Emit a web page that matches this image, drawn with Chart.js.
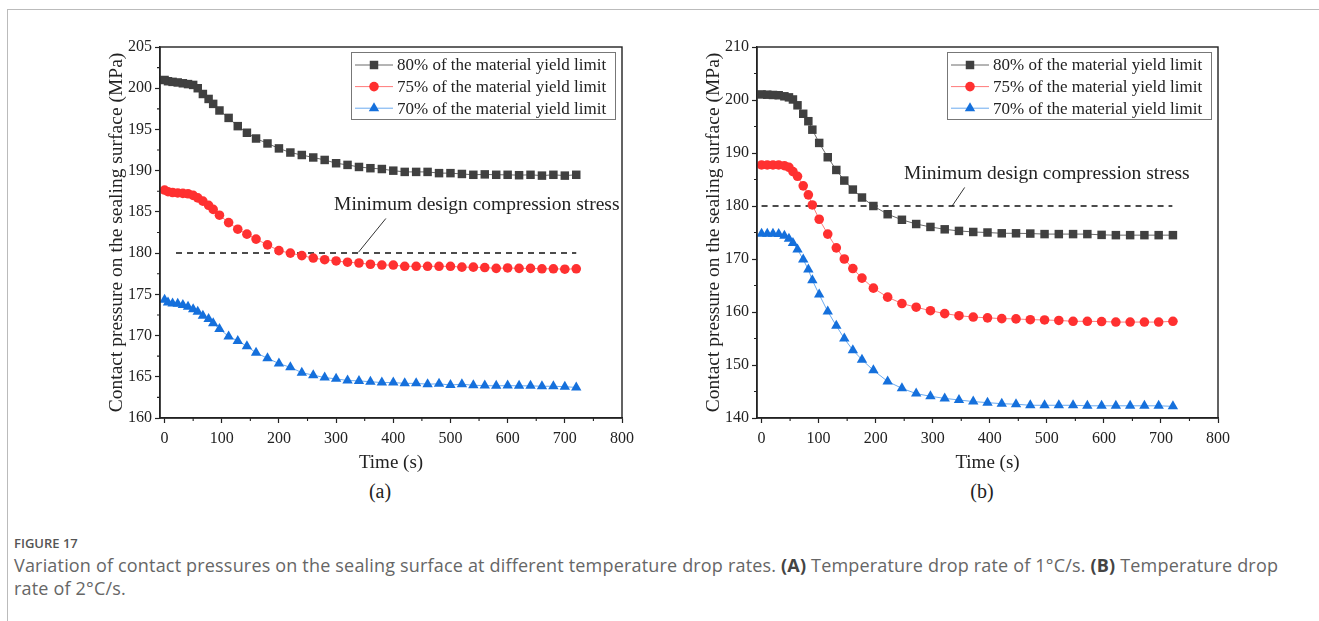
<!DOCTYPE html>
<html>
<head>
<meta charset="utf-8">
<script src="https://cdn.jsdelivr.net/npm/chart.js@4.4.1/dist/chart.umd.min.js"></script>
<style>
  body { margin: 0; background: #fff; width: 1319px; height: 621px; overflow: hidden; position: relative; }
  .frame { position: absolute; left: 7px; top: 9px; right: 0; bottom: 0; border-top: 1px solid #bbb; border-left: 1px solid #bbb; }
  canvas { position: absolute; top: 30px; }
  .sub { position: absolute; top: 480px; font: 20px "Liberation Serif", serif; color: #222; transform: translateX(-50%); }
  .figno { position: absolute; left: 14px; top: 534px; font: 600 13px "Open Sans", sans-serif; color: #555; }
  .caption { position: absolute; left: 14px; top: 554px; font: 18px "Open Sans", sans-serif; letter-spacing: 0.18px; color: #666; line-height: 23px; white-space: nowrap; }
  .caption b { color: #444; }
</style>
</head>
<body>
<div class="frame"></div>
<canvas id="chartA" width="550" height="450" style="left:90px"></canvas>
<canvas id="chartB" width="550" height="450" style="left:687px"></canvas>
<div class="sub" style="left:380px">(a)</div>
<div class="sub" style="left:982px">(b)</div>
<div class="figno">FIGURE 17</div>
<div class="caption">Variation of contact pressures on the sealing surface at different temperature drop rates. <b>(A)</b> Temperature drop rate of 1°C/s. <b>(B)</b> Temperature drop<br>rate of 2°C/s.</div>
<script>
// series labels
const seriesLabels = ['80% of the material yield limit', '75% of the material yield limit', '70% of the material yield limit'];
const noteText = 'Minimum design compression stress';
const designStress = 180;

// (a) 1 °C/s
const timeA = [0, 6, 14, 23, 32, 41, 50, 58, 67, 77, 85, 96, 112, 128, 144, 160,
  180, 200, 220, 240, 260, 280, 300, 320, 340, 360, 380, 400, 420, 440, 460, 480, 500, 520, 540, 560, 580, 600, 620, 640, 660, 680, 700, 720];
const p80A = [201.0, 200.85, 200.77, 200.7, 200.6, 200.5, 200.4, 200.0, 199.3, 198.7, 198.1, 197.3, 196.4, 195.4, 194.6, 193.9,
  193.3, 192.7, 192.2, 191.9, 191.6, 191.3, 190.9, 190.7, 190.45, 190.3, 190.2, 190.0, 189.85, 189.85, 189.85, 189.7, 189.7, 189.6, 189.5, 189.55, 189.5, 189.5, 189.45, 189.5, 189.4, 189.5, 189.4, 189.5];
const p75A = [187.65, 187.45, 187.35, 187.3, 187.25, 187.2, 187.0, 186.7, 186.3, 185.8, 185.3, 184.6, 183.7, 182.9, 182.3, 181.7,
  181.0, 180.3, 180.0, 179.7, 179.4, 179.2, 179.05, 178.9, 178.8, 178.65, 178.55, 178.55, 178.4, 178.4, 178.4, 178.4, 178.4, 178.3, 178.3, 178.25, 178.15, 178.2, 178.15, 178.15, 178.1, 178.1, 178.05, 178.1];
const p70A = [174.33, 174.0, 173.9, 173.85, 173.7, 173.5, 173.2, 172.9, 172.4, 172.0, 171.5, 170.8, 169.9, 169.35, 168.7, 167.9,
  167.25, 166.6, 166.15, 165.5, 165.2, 164.9, 164.75, 164.55, 164.5, 164.4, 164.3, 164.3, 164.2, 164.2, 164.1, 164.15, 164.0, 164.1, 163.97, 163.93, 163.9, 163.93, 163.9, 163.9, 163.85, 163.85, 163.8, 163.7];
const dashA = [20, 720];            // time span of the 180 MPa line
const pointerA = [[339, 180.1], [387, 184.2]];
const noteA = [546, 185.9];
const yTicksA = [160, 165, 170, 175, 180, 185, 190, 195, 200, 205];

// (b) 2 °C/s
const timeB = [0, 10, 20, 30, 40, 48, 55, 63, 73, 82, 89, 101, 116, 131, 145, 160, 176,
  196, 221, 246, 271, 296, 321, 346, 371, 396, 421, 446, 471, 496, 521, 546, 571, 596, 621, 646, 671, 696, 721];
const p80B = [201.05, 201.0, 200.95, 200.9, 200.7, 200.5, 200.1, 199.0, 197.4, 196.0, 194.4, 191.9, 189.2, 186.8, 184.8, 183.1, 181.6,
  180.0, 178.45, 177.4, 176.6, 176.05, 175.6, 175.3, 175.1, 175.0, 174.85, 174.85, 174.8, 174.7, 174.7, 174.7, 174.7, 174.55, 174.5, 174.5, 174.5, 174.5, 174.5];
const p75B = [187.75, 187.75, 187.75, 187.75, 187.6, 187.3, 186.5, 185.6, 183.8, 182.1, 180.2, 177.5, 174.7, 172.1, 170.0, 168.2, 166.4,
  164.5, 162.8, 161.6, 160.9, 160.25, 159.7, 159.3, 159.05, 158.9, 158.75, 158.7, 158.55, 158.5, 158.4, 158.25, 158.25, 158.2, 158.1, 158.1, 158.1, 158.1, 158.25];
const p70B = [174.75, 174.75, 174.75, 174.7, 174.4, 173.8, 173.0, 171.8, 169.9, 168.0, 166.0, 163.3, 160.1, 157.4, 155.0, 152.8, 151.0,
  149.0, 146.9, 145.6, 144.6, 144.1, 143.7, 143.4, 143.1, 142.9, 142.7, 142.6, 142.4, 142.4, 142.4, 142.4, 142.3, 142.3, 142.3, 142.3, 142.3, 142.3, 142.2];
const dashB = [0, 720];
const pointerB = [[334, 180.0], [356, 183.5]];
const noteB = [500, 186.1];
const yTicksB = [140, 150, 160, 170, 180, 190, 200, 210];

const xTicks = [0, 100, 200, 300, 400, 500, 600, 700, 800];

const serif = '"Liberation Serif", "Times New Roman", serif';
const ink = '#222';

const styles = [
  { line: '#6a6a6a', fill: '#404040', shape: 'rect', r: 6 },
  { line: '#ff7a7a', fill: '#ff3030', shape: 'circle', r: 4.8 },
  { line: '#6aaaf0', fill: '#1570dc', shape: 'triangle', r: 6 }
];

function toXY(xs, ys) {
  return xs.map((x, i) => ({ x: x, y: ys[i] }));
}

function drawMarker(ctx, shape, r, x, y) {
  ctx.beginPath();
  if (shape === 'rect') {
    const s = r * Math.SQRT1_2;
    ctx.rect(x - s, y - s, 2 * s, 2 * s);
  } else if (shape === 'circle') {
    ctx.arc(x, y, r, 0, Math.PI * 2);
  } else {
    for (let k = 0; k < 3; k++) {
      const a = k * 2 * Math.PI / 3;
      const px = x + Math.sin(a) * r, py = y - Math.cos(a) * r;
      k ? ctx.lineTo(px, py) : ctx.moveTo(px, py);
    }
    ctx.closePath();
  }
  ctx.fill();
}

// frame, minor ticks, legend and the note text
const decor = {
  id: 'decor',
  afterDraw(chart, args, opts) {
    const { ctx, chartArea: a, scales } = chart;
    ctx.save();
    ctx.strokeStyle = ink;
    ctx.lineWidth = 1.4;
    ctx.strokeRect(a.left, a.top, a.right - a.left, a.bottom - a.top);

    // minor ticks halfway between the labelled ones
    ctx.lineWidth = 1.1;
    ctx.beginPath();
    for (let i = 0; i < xTicks.length - 1; i++) {
      const px = scales.x.getPixelForValue((xTicks[i] + xTicks[i + 1]) / 2);
      ctx.moveTo(px, a.bottom); ctx.lineTo(px, a.bottom + 3);
    }
    const yt = opts.yTicks;
    for (let i = 0; i < yt.length - 1; i++) {
      const py = scales.y.getPixelForValue((yt[i] + yt[i + 1]) / 2);
      ctx.moveTo(a.left, py); ctx.lineTo(a.left - 3, py);
    }
    ctx.stroke();

    // note
    ctx.fillStyle = ink;
    ctx.font = '19.5px ' + serif;
    ctx.textAlign = 'center';
    ctx.textBaseline = 'middle';
    ctx.fillText(noteText, scales.x.getPixelForValue(opts.note[0]), scales.y.getPixelForValue(opts.note[1]));

    // legend box
    const w = 264, h = 67, x0 = a.right - w - 7, y0 = a.top + 5;
    ctx.fillStyle = '#fff';
    ctx.fillRect(x0, y0, w, h);
    ctx.strokeStyle = '#777';
    ctx.lineWidth = 1;
    ctx.strokeRect(x0 + 0.5, y0 + 0.5, w, h);
    ctx.font = '17px ' + serif;
    ctx.textAlign = 'left';
    seriesLabels.forEach((lab, i) => {
      const st = styles[i];
      const y = y0 + 13 + i * 21.6;
      ctx.strokeStyle = st.line;
      ctx.beginPath();
      ctx.moveTo(x0 + 4, y); ctx.lineTo(x0 + 42, y);
      ctx.stroke();
      ctx.fillStyle = st.fill;
      drawMarker(ctx, st.shape, st.r, x0 + 23, y);
      ctx.fillStyle = ink;
      ctx.fillText(lab, x0 + 46, y + 1);
    });
    ctx.restore();
  }
};

function makeChart(id, times, series, dash, pointer, note, yTicks, padRight) {
  const datasets = series.map((vals, i) => ({
    label: seriesLabels[i],
    data: toXY(times, vals),
    borderColor: styles[i].line,
    borderWidth: 1,
    backgroundColor: styles[i].fill,
    pointBackgroundColor: styles[i].fill,
    pointBorderWidth: 0,
    pointStyle: styles[i].shape,
    pointRadius: styles[i].r,
    tension: 0
  }));
  datasets.push({
    data: dash.map(t => ({ x: t, y: designStress })),
    borderColor: '#111', borderWidth: 1.5, borderDash: [6, 5], pointRadius: 0
  });
  datasets.push({
    data: pointer.map(p => ({ x: p[0], y: p[1] })),
    borderColor: '#333', borderWidth: 1, pointRadius: 0
  });

  const tickFont = { family: serif, size: 16 };
  new Chart(document.getElementById(id), {
    type: 'line',
    data: { datasets: datasets },
    options: {
      responsive: false,
      animation: false,
      devicePixelRatio: 1,
      layout: { padding: { left: 0, right: padRight, top: 17, bottom: 0 } },
      plugins: { legend: { display: false }, tooltip: { enabled: false }, decor: { yTicks: yTicks, note: note } },
      scales: {
        x: {
          type: 'linear', min: -8, max: 800,
          afterBuildTicks: s => { s.ticks = xTicks.map(v => ({ value: v })); },
          afterFit: s => { s.height = 62; },
          grid: { drawOnChartArea: false, tickLength: 5, tickColor: ink, tickWidth: 1.2 },
          border: { color: ink, width: 1.4 },
          ticks: { color: ink, font: tickFont, padding: 6, maxRotation: 0 },
          title: { display: true, text: 'Time (s)', color: ink, font: { family: serif, size: 19 }, padding: { top: 0, bottom: 6 } }
        },
        y: {
          type: 'linear', min: yTicks[0], max: yTicks[yTicks.length - 1],
          afterBuildTicks: s => { s.ticks = yTicks.map(v => ({ value: v })); },
          afterFit: s => { s.width = 70; },
          grid: { drawOnChartArea: false, tickLength: 5, tickColor: ink, tickWidth: 1.2 },
          border: { color: ink, width: 1.4 },
          ticks: { color: ink, font: tickFont, padding: 3 },
          title: { display: true, text: 'Contact pressure on the sealing surface (MPa)', color: ink, font: { family: serif, size: 19.5 }, padding: { top: 15, bottom: 0 } }
        }
      }
    },
    plugins: [decor]
  });
}

makeChart('chartA', timeA, [p80A, p75A, p70A], dashA, pointerA, noteA, yTicksA, 16);
makeChart('chartB', timeB, [p80B, p75B, p70B], dashB, pointerB, noteB, yTicksB, 19);
</script>
</body>
</html>
